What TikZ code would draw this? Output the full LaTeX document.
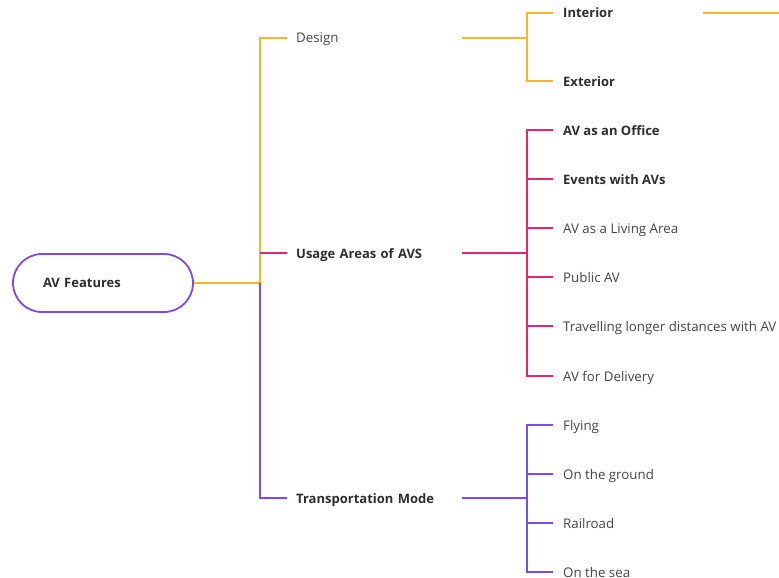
\documentclass[tikz,border=0pt]{standalone}
\usepackage{fontspec}
\setmainfont{Open Sans}
\begin{document}
\definecolor{mmorange}{RGB}{247,181,41}
\definecolor{mmpink}{RGB}{228,36,118}
\definecolor{mmpurple}{RGB}{128,72,232}
\definecolor{mmtext}{RGB}{68,68,68}
\definecolor{mmbold}{RGB}{45,45,45}
\begin{tikzpicture}[x=1pt,y=-1pt,
  every node/.style={font=\fontsize{13.3}{15}\selectfont, text=mmtext},
  branch/.style={anchor=west, inner xsep=9pt, inner ysep=0pt, text width=157pt,
    align=left, text height=13pt, text depth=3pt, font=\fontsize{13}{15}\selectfont\bfseries, text=mmbold},
  leaf/.style={anchor=west, inner xsep=10pt, inner ysep=0pt, align=left,
    text height=13pt, text depth=3pt},
  strong/.style={font=\fontsize{13}{15}\selectfont\bfseries, text=mmbold},
  wire/.style={line width=1.6pt},
  root/.style={draw=mmpurple, line width=1.8pt, rounded corners=29pt,
    minimum width=180pt, minimum height=58pt, inner xsep=30pt, text width=120pt,
    align=left, font=\fontsize{13}{15}\selectfont\bfseries, text=mmbold}]
\useasboundingbox (0,0) rectangle (779,578);

% root
\node[root] (root) at (103,283) {AV Features};

% main branches
\node[branch, font=\fontsize{13.3}{15}\selectfont, text=mmtext] (design) at (287,38) {Design};
\node[branch] (usage) at (287,253) {Usage Areas of AVS};
\node[branch] (trans) at (287,498) {Transportation Mode};

% design leaves
\node[leaf, strong, text width=130pt] (interior) at (553,13) {Interior};
\node[leaf, strong] (exterior) at (553,81) {Exterior};

% usage leaves
\node[leaf, strong] (office) at (553,130) {AV as an Office};
\node[leaf, strong] (events) at (553,179) {Events with AVs};
\node[leaf] (living) at (553,228) {AV as a Living Area};
\node[leaf] (public) at (553,277) {Public AV};
\node[leaf] (travel) at (553,326) {Travelling longer distances with AV};
\node[leaf] (delivery) at (553,376) {AV for Delivery};

% transportation leaves
\node[leaf] (flying) at (553,425) {Flying};
\node[leaf] (ground) at (553,474) {On the ground};
\node[leaf] (rail) at (553,523) {Railroad};
\node[leaf] (sea) at (553,572) {On the sea};

% junctions
\coordinate (trunk) at (260,283);
\coordinate (bd) at (527,38);
\coordinate (bu) at (527,253);
\coordinate (bt) at (527,498);
\coordinate (beyond) at (779,13);

% trunk connectors
\draw[wire, draw=mmorange] (root.east) -- (trunk);
\draw[wire, draw=mmorange] (trunk) |- (design.west);
\draw[wire, draw=mmpink] (trunk|-usage.west) -- (usage.west);
\draw[wire, draw=mmpurple] (trunk) |- (trans.west);

% design bracket
\draw[wire, draw=mmorange] (design.east) -- (bd);
\draw[wire, draw=mmorange] (bd) |- (interior.west);
\draw[wire, draw=mmorange] (bd) |- (exterior.west);
\draw[wire, draw=mmorange] (interior.east) -- (beyond);

% usage bracket
\draw[wire, draw=mmpink] (usage.east) -- (bu);
\foreach \n in {office,events,living,public,travel,delivery}
  \draw[wire, draw=mmpink] (bu) |- (\n.west);

% transportation bracket
\draw[wire, draw=mmpurple] (trans.east) -- (bt);
\foreach \n in {flying,ground,rail,sea}
  \draw[wire, draw=mmpurple] (bt) |- (\n.west);
\end{tikzpicture}
\end{document}
